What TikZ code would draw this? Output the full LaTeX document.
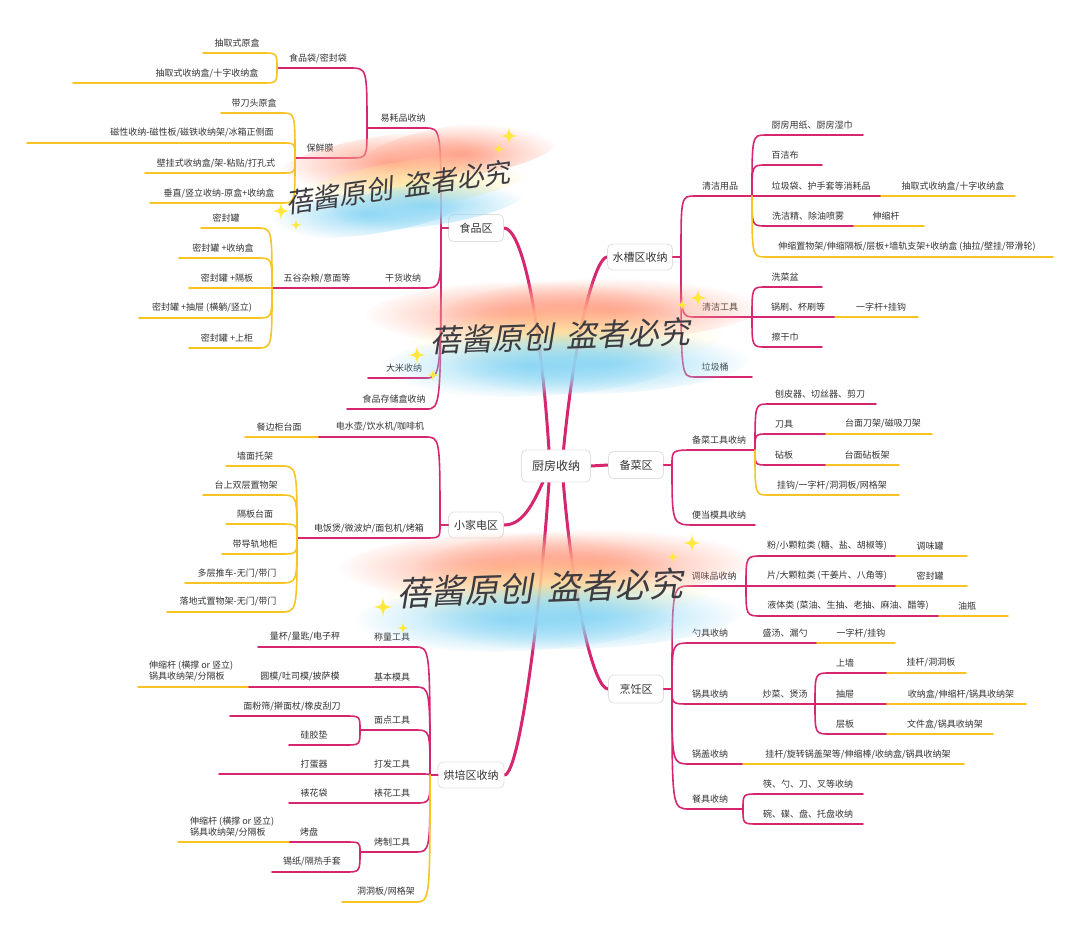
\documentclass[tikz,border=0pt]{standalone}
\usepackage{fontspec}
\newfontfamily\cjk{Noto Sans CJK SC}
\newfontfamily\wmf[FakeSlant=0.2]{Noto Sans CJK SC}
\usetikzlibrary{fadings}
\tikzfading[name=blobfade, inner color=transparent!0, outer color=transparent!100]
\definecolor{mg}{RGB}{214,38,112}
\definecolor{yl}{RGB}{247,196,35}
\definecolor{tx}{RGB}{51,51,51}
\definecolor{rbsal}{RGB}{255,160,135}
\definecolor{rbyel}{RGB}{255,236,150}
\definecolor{rbblu}{RGB}{140,215,245}
\definecolor{spk}{RGB}{255,232,60}
\pgfdeclarelayer{background}
\pgfsetlayers{background,main}
\tikzset{
 lab/.style={font=\cjk\fontsize{9}{11}\selectfont, text=tx, inner sep=0pt},
 m/.style={draw=mg, line width=1.6pt, line cap=round},
 stub/.style={draw=mg, line width=2.4pt, line cap=round},
 yel/.style={draw=yl, line width=1.6pt, line cap=round},
 trunk/.style={draw=mg, line width=3pt, line cap=round},
 mainbox/.style={draw=black!12, fill=white, rounded corners=5pt, line width=0.8pt, font=\cjk\fontsize{11}{13}\selectfont, text=tx, inner sep=0pt},
 wm/.style={font=\wmf\fontsize{#1}{#1}\selectfont, text={rgb,255:red,60;green,60;blue,66}, inner sep=0pt},
 sal/.style={rbsal, path fading=blobfade, opacity=0.95},
 ylw/.style={rbyel, path fading=blobfade, opacity=0.8},
 blu/.style={rbblu, path fading=blobfade, opacity=0.95},
}
\newcommand\topic[7][m]{%
  \node[lab] (#2) at (#3,#6-10) {#7};
  \coordinate (#2L) at (#4,#6);
  \coordinate (#2R) at (#5,#6);
  \draw[#1] (#2L) -- (#2R);}
\newcommand\link[3][m]{\draw[#1] (#2) .. controls (#3|-#2) .. (#3);}
\newcommand\spark[3]{\begin{scope}[shift={(#1,#2)}, scale=#3]
  \fill[spk] (0,-1) .. controls (0.13,-0.13) .. (1,0) .. controls (0.13,0.13) .. (0,1) .. controls (-0.13,0.13) .. (-1,0) .. controls (-0.13,-0.13) .. (0,-1) -- cycle;
  \end{scope}}
\newcommand\rainbow[6]{\begin{scope}[shift={(#1,#2)}, rotate=#3]
  \fill[sal] (-40,-24) ellipse [x radius=#4, y radius=#5];
  \fill[sal] (40,-24) ellipse [x radius=#4, y radius=#5];
  \fill[ylw] (0,2) ellipse [x radius=#4, y radius=#5];
  \fill[blu] (-35,28) ellipse [x radius=#6, y radius=#5];
  \fill[blu] (35,28) ellipse [x radius=#6, y radius=#5];
  \end{scope}}
\begin{document}
\begin{tikzpicture}[x=1pt,y=-1pt]
\useasboundingbox (0,0) rectangle (1080,929);

% ---------- main nodes ----------
\node[mainbox, minimum width=69pt, minimum height=32pt, font=\cjk\fontsize{12}{14}\selectfont] (root) at (556,466) {厨房收纳};
\node[mainbox, minimum width=55pt, minimum height=27pt] (food) at (476,228) {食品区};
\node[mainbox, minimum width=65pt, minimum height=26pt] (sink) at (640,257) {水槽区收纳};
\node[mainbox, minimum width=55pt, minimum height=27pt] (prep) at (636,465) {备菜区};
\node[mainbox, minimum width=55pt, minimum height=26pt] (appl) at (476,525) {小家电区};
\node[mainbox, minimum width=55pt, minimum height=28pt] (cook) at (636,689) {烹饪区};
\node[mainbox, minimum width=66pt, minimum height=26pt] (bake) at (471,775) {烘培区收纳};

\coordinate (rcL) at (550,466);
\coordinate (rcR) at (562,466);
\begin{pgfonlayer}{background}
\fill[white] (0,0) rectangle (1080,929);
\draw[trunk] (food.east) .. controls (520,228) and (540,300) .. (rcL);
\draw[trunk] (bake.east) .. controls (520,775) and (542,600) .. (rcL);
\draw[trunk] (appl.east) .. controls (525,525) and (535,500) .. (rcL);
\draw[trunk] (sink.west) .. controls (596,257) and (574,330) .. (rcR);
\draw[trunk] (cook.west) .. controls (594,689) and (572,600) .. (rcR);
\draw[trunk] (root.east) -- (prep.west);
\end{pgfonlayer}

% ---------- 食品区 ----------
\coordinate (FB) at (441,228);
\draw[stub] (food.west) -- (FB);
\topic{yhp}{403}{367}{425}{128}{易耗品收纳}
\topic{gh}{403}{385}{424}{288}{干货收纳}
\topic{dm}{404}{368}{425}{378}{大米收纳}
\topic{spc}{394}{347}{426}{409}{食品存储盒收纳}
\link{yhpR}{FB}\link{ghR}{FB}\link{dmR}{FB}\link{spcR}{FB}
\topic{spd}{318}{277}{350}{68}{食品袋/密封袋}
\topic{bxm}{320}{295}{351}{158}{保鲜膜}
\link{spdR}{yhpL}\link{bxmR}{yhpL}
\topic{wg}{317}{272}{385}{288}{五谷杂粮/意面等}
\topic[yel]{f1}{237}{203}{262}{53}{抽取式原盒}
\topic[yel]{f2}{207}{73}{262}{83}{抽取式收纳盒/十字收纳盒}
\link[yel]{f1R}{spdL}\link[yel]{f2R}{spdL}
\topic[yel]{f3}{254}{221}{282}{113}{带刀头原盒}
\topic[yel]{f4}{192}{27}{282}{143}{磁性收纳-磁性板/磁铁收纳架/冰箱正侧面}
\topic[yel]{f5}{216}{145}{282}{173}{壁挂式收纳盒/架-粘贴/打孔式}
\topic[yel]{f6}{219}{150}{282}{203}{垂直/竖立收纳-原盒+收纳盒}
\link[yel]{f3R}{bxmL}\link[yel]{f4R}{bxmL}\link[yel]{f5R}{bxmL}\link[yel]{f6R}{bxmL}
\topic[yel]{f7}{226}{201}{257}{228}{密封罐}
\topic[yel]{f8}{223}{179}{257}{258}{密封罐 +收纳盒}
\topic[yel]{f9}{227}{189}{257}{288}{密封罐 +隔板}
\topic[yel]{f10}{202}{139}{257}{318}{密封罐 +抽屉 (横躺/竖立)}
\topic[yel]{f11}{227}{189}{257}{348}{密封罐 +上柜}
\link[yel]{f7R}{wgL}\link[yel]{f8R}{wgL}\link[yel]{f9R}{wgL}\link[yel]{f10R}{wgL}\link[yel]{f11R}{wgL}

% ---------- 水槽区收纳 ----------
\coordinate (SB) at (681,257);
\draw[stub] (sink.east) -- (SB);
\topic{qy}{720}{695}{752}{196}{清洁用品}
\topic{qg}{720}{695}{752}{317}{清洁工具}
\topic{lj}{715}{695}{752}{377}{垃圾桶}
\link{qyL}{SB}\link{qgL}{SB}\link{ljL}{SB}
\topic{s1}{812}{766}{863}{135}{厨房用纸、厨房湿巾}
\topic{s2}{785}{766}{822}{165}{百洁布}
\topic{s3}{821}{766}{881}{196}{垃圾袋、护手套等消耗品}
\topic[yel]{s3a}{953}{881}{1015}{196}{抽取式收纳盒/十字收纳盒}
\topic{s4}{808}{766}{854}{226}{洗洁精、除油喷雾}
\topic[yel]{s4a}{886}{854}{924}{226}{伸缩杆}
\topic[yel]{s5}{907}{766}{1053}{257}{伸缩置物架/伸缩隔板/层板+墙轨支架+收纳盒 (抽拉/壁挂/带滑轮)}
\link{s1L}{qyR}\link{s2L}{qyR}\link{s3L}{qyR}\link{s4L}{qyR}\link[yel]{s5L}{qyR}
\topic{s6}{785}{766}{822}{287}{洗菜盆}
\topic{s7}{798}{766}{835}{317}{锅刷、杯刷等}
\topic[yel]{s7a}{881}{835}{918}{317}{一字杆+挂钩}
\topic{s8}{785}{766}{822}{347}{擦干巾}
\link{s6L}{qgR}\link{s7L}{qgR}\link{s8L}{qgR}

% ---------- 备菜区 ----------
\coordinate (PB) at (672,465);
\draw[stub] (prep.east) -- (PB);
\topic{bc}{719}{695}{755}{450}{备菜工具收纳}
\topic{bd}{719}{695}{755}{525}{便当模具收纳}
\link{bcL}{PB}\link{bdL}{PB}
\topic{p1}{820}{768}{876}{404}{刨皮器、切丝器、剪刀}
\topic{p2}{784}{768}{826}{434}{刀具}
\topic[yel]{p2a}{883}{826}{932}{434}{台面刀架/磁吸刀架}
\topic{p3}{784}{768}{826}{465}{砧板}
\topic[yel]{p3a}{867}{826}{899}{465}{台面砧板架}
\topic[yel]{p4}{832}{768}{899}{495}{挂钩/一字杆/洞洞板/网格架}
\link{p1L}{bcR}\link{p2L}{bcR}\link{p3L}{bcR}\link[yel]{p4L}{bcR}

% ---------- 烹饪区 ----------
\coordinate (KB) at (672,689);
\draw[stub] (cook.east) -- (KB);
\topic{k1}{714}{690}{746}{586}{调味品收纳}
\topic{k2}{710}{690}{750}{643}{勺具收纳}
\topic{k2a}{785}{750}{817}{643}{盛汤、漏勺}
\topic[yel]{k2b}{861}{817}{895}{643}{一字杆/挂钩}
\topic{k3}{710}{690}{750}{704}{锅具收纳}
\topic{k3a}{785}{750}{815}{704}{炒菜、煲汤}
\topic{k4}{710}{690}{743}{764}{锅盖收纳}
\topic[yel]{k4a}{858}{743}{964}{764}{挂杆/旋转锅盖架等/伸缩棒/收纳盒/锅具收纳架}
\topic{k5}{710}{690}{743}{809}{餐具收纳}
\link{k1L}{KB}\link{k2L}{KB}\link{k3L}{KB}\link{k4L}{KB}\link{k5L}{KB}
\topic{t1}{827}{762}{896}{556}{粉/小颗粒类 (糖、盐、胡椒等)}
\topic[yel]{t1a}{930}{896}{967}{556}{调味罐}
\topic{t2}{827}{762}{896}{586}{片/大颗粒类 (干姜片、八角等)}
\topic[yel]{t2a}{930}{896}{967}{586}{密封罐}
\topic{t3}{848}{762}{939}{616}{液体类 (菜油、生抽、老抽、麻油、醋等)}
\topic[yel]{t3a}{967}{939}{1008}{616}{油瓶}
\link{t1L}{k1R}\link{t2L}{k1R}\link{t3L}{k1R}
\topic{g1}{845}{830}{887}{673}{上墙}
\topic[yel]{g1a}{931}{887}{966}{673}{挂杆/洞洞板}
\topic{g2}{845}{830}{887}{704}{抽屉}
\topic[yel]{g2a}{961}{887}{1026}{704}{收纳盒/伸缩杆/锅具收纳架}
\topic{g3}{845}{830}{887}{734}{层板}
\topic[yel]{g3a}{945}{887}{993}{734}{文件盒/锅具收纳架}
\link{g1L}{k3aR}\link{g2L}{k3aR}\link{g3L}{k3aR}
\topic{c1}{808}{758}{863}{794}{筷、勺、刀、叉等收纳}
\topic{c2}{808}{758}{863}{824}{碗、碟、盘、托盘收纳}
\link{c1L}{k5R}\link{c2L}{k5R}

% ---------- 小家电区 ----------
\coordinate (AB) at (440,525);
\draw[stub] (appl.west) -- (AB);
\topic{a1}{380}{318}{425}{437}{电水壶/饮水机/咖啡机}
\topic[yel]{a1a}{279}{245}{318}{437}{餐边柜台面}
\topic{a2}{369}{297}{425}{538}{电饭煲/微波炉/面包机/烤箱}
\link{a1R}{AB}\link{a2R}{AB}
\topic[yel]{a3}{255}{226}{280}{466}{墙面托架}
\topic[yel]{a4}{246}{203}{280}{495}{台上双层置物架}
\topic[yel]{a5}{255}{226}{280}{524}{隔板台面}
\topic[yel]{a6}{255}{222}{280}{554}{带导轨地柜}
\topic[yel]{a7}{237}{185}{280}{583}{多层推车-无门/带门}
\topic[yel]{a8}{228}{167}{280}{612}{落地式置物架-无门/带门}
\link[yel]{a3R}{a2L}\link[yel]{a4R}{a2L}\link[yel]{a5R}{a2L}\link[yel]{a6R}{a2L}\link[yel]{a7R}{a2L}\link[yel]{a8R}{a2L}

% ---------- 烘培区收纳 ----------
\coordinate (HB) at (430,775);
\draw[stub] (bake.west) -- (HB);
\topic{b1}{392}{357}{415}{647}{称量工具}
\topic{b1a}{305}{258}{357}{647}{量杯/量匙/电子秤}
\topic{b2}{392}{357}{415}{687}{基本模具}
\topic{b2a}{300}{248}{357}{687}{圆模/吐司模/披萨模}
\node[lab, align=left, anchor=west] (b2b) at (149,671) {伸缩杆 (横撑 or 竖立)\\锅具收纳架/分隔板};
\coordinate (b2bL) at (138,687);
\draw[yel] (b2bL) -- (b2aL);
\topic{b3}{392}{360}{415}{730}{面点工具}
\topic{b3a}{292}{230}{345}{716}{面粉筛/擀面杖/橡皮刮刀}
\topic{b3b}{314}{289}{345}{745}{硅胶垫}
\link{b3aR}{b3L}\link{b3bR}{b3L}
\topic{b4}{392}{357}{415}{774}{打发工具}
\topic{b4a}{314}{219}{357}{774}{打蛋器}
\topic{b5}{392}{357}{415}{803}{裱花工具}
\topic{b5a}{314}{289}{357}{803}{裱花袋}
\topic{b6}{392}{360}{415}{852}{烤制工具}
\topic{b6a}{309}{289}{345}{842}{烤盘}
\node[lab, align=left, anchor=west] (b6b) at (190,827) {伸缩杆 (横撑 or 竖立)\\锅具收纳架/分隔板};
\coordinate (b6bL) at (178,842);
\draw[yel] (b6bL) -- (b6aL);
\topic{b6c}{312}{272}{345}{872}{锡纸/隔热手套}
\link{b6aR}{b6L}\link{b6cR}{b6L}
\topic[yel]{b7}{386}{342}{415}{902}{洞洞板/网格架}
\link{b1R}{HB}\link{b2R}{HB}\link{b3R}{HB}\link{b4R}{HB}\link{b5R}{HB}\link{b6R}{HB}\link[yel]{b7R}{HB}

% ---------- watermarks ----------
\begin{scope}[shift={(405,185)}, rotate=8]
  \fill[sal] (-10,-26) ellipse [x radius=115, y radius=26];
  \fill[sal] (60,-26) ellipse [x radius=100, y radius=26];
  \fill[ylw] (10,0) ellipse [x radius=120, y radius=24];
  \fill[blu] (-40,22) ellipse [x radius=100, y radius=22];
  \fill[blu] (20,22) ellipse [x radius=100, y radius=22];
\end{scope}
\rainbow{565}{335}{2}{160}{32}{150}
\rainbow{548}{588}{2}{170}{34}{160}
\node[wm=27, rotate=8] (wm1) at (398,187) {蓓酱原创\hspace{0.4em}盗者必究};
\node[wm=31, rotate=2] (wm2) at (560,336) {蓓酱原创\hspace{0.4em}盗者必究};
\node[wm=34, rotate=2] (wm3) at (540,588) {蓓酱原创\hspace{0.4em}盗者必究};
\spark{509}{136}{9}\spark{499}{149}{6}\spark{281}{211}{9}\spark{296}{225}{6}
\spark{698}{298}{9}\spark{682}{305}{6}\spark{417}{355}{9}\spark{433}{375}{6}
\spark{692}{543}{9}\spark{673}{557}{6}\spark{383}{607}{10}\spark{403}{628}{6}
\end{tikzpicture}
\end{document}
